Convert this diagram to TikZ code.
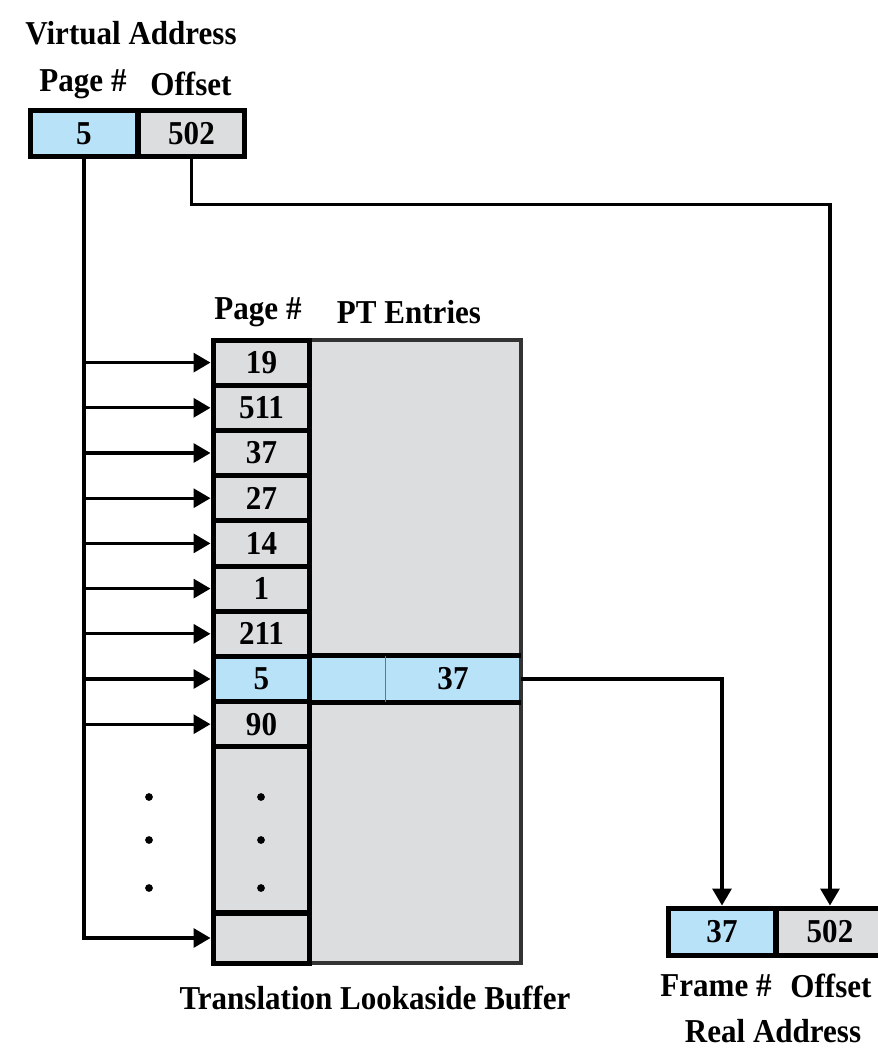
\documentclass[tikz,border=0pt]{standalone}
\usepackage{fontspec}
\setmainfont{Liberation Serif}[FakeStretch=0.93]
\usetikzlibrary{arrows.meta}
\definecolor{tlbblue}{HTML}{B8E2F8}
\definecolor{tlbgray}{HTML}{DCDDDF}

\begin{document}
\begin{tikzpicture}[
    x=0.02cm, y=-0.02cm,
    >={Triangle[length=0.34cm, width=0.38cm]},
    every node/.style={font=\fontsize{19}{22}\selectfont\bfseries},
    cell/.style={
        draw,
        line width=1mm,
        inner sep=0pt,
        minimum width=2.16cm,
        minimum height=0.94cm
    },
    row/.style={cell, fill=tlbgray, minimum width=1.94cm, minimum height=0.904cm},
    conn/.style={line width=0.65mm},
    arr/.style={conn, ->}
]
    \useasboundingbox (0,0) rectangle (878,1055);

    % Virtual address
    \node (vatitle) at (131, 33) {Virtual Address};
    \node (vapagelbl) at (83, 84) {Page \#};
    \node (vaofflbl) at (191, 84) {Offset};
    \node[cell, fill=tlbblue] (vapage) at (84, 133.5) {5};
    \node[cell, fill=tlbgray, minimum width=2.14cm] (vaoff) at (191.5, 133.5) {502};

    % TLB
    \node (pagehdr) at (258, 312) {Page \#};
    \node (pthdr) at (409, 312) {PT Entries};
    \node[fill=tlbgray, inner sep=0pt, minimum width=4.22cm, minimum height=12.46cm] (pt) at (415.5, 651.5) {};
    \node[fill=tlbblue, inner sep=0pt, minimum width=1.5cm, minimum height=0.92cm] (hvalid) at (347.5, 679) {};
    \node[fill=tlbblue, inner sep=0pt, minimum width=2.72cm, minimum height=0.92cm] (hframe) at (453, 679) {37};
    \draw[line width=0.75mm, black!80] (pt.north west) rectangle (pt.south east);
    \draw[line width=1mm] (hvalid.north west) -- (hframe.north east);
    \draw[line width=1mm] (hvalid.south west) -- (hframe.south east);
    \draw[line width=0.3mm, black!55] (hvalid.north east) -- (hvalid.south east);

    \node[row] (r19) at (261.5, 362.6) {19};
    \node[row] (r511) at (261.5, 407.8) {511};
    \node[row] (r37) at (261.5, 453.0) {37};
    \node[row] (r27) at (261.5, 498.2) {27};
    \node[row] (r14) at (261.5, 543.4) {14};
    \node[row] (r1) at (261.5, 588.6) {1};
    \node[row] (r211) at (261.5, 633.8) {211};
    \node[row, fill=tlbblue] (r5) at (261.5, 679.0) {5};
    \node[row] (r90) at (261.5, 724.2) {90};
    \node[row, minimum height=3.324cm] (rdots) at (261.5, 829.9) {};
    \node[row, minimum height=1.0cm] (rlast) at (261.5, 938) {};
    \node (tlbtitle) at (375, 998) {Translation Lookaside Buffer};

    \foreach \y in {797, 840, 888} {
        \fill (149, \y) circle (2.2pt);
        \fill (261, \y) circle (2.2pt);
    }

    % Page number lookup
    \draw[arr] (vapage.south) |- (r19.west);
    \draw[arr] (vapage.south) |- (r511.west);
    \draw[arr] (vapage.south) |- (r37.west);
    \draw[arr] (vapage.south) |- (r27.west);
    \draw[arr] (vapage.south) |- (r14.west);
    \draw[arr] (vapage.south) |- (r1.west);
    \draw[arr] (vapage.south) |- (r211.west);
    \draw[arr] (vapage.south) |- (r5.west);
    \draw[arr] (vapage.south) |- (r90.west);
    \draw[arr] (vapage.south) |- (rlast.west);

    % Real address
    \node[cell, fill=tlbblue] (raframe) at (722, 931.5) {37};
    \node[cell, fill=tlbgray] (raoff) at (830, 931.5) {502};
    \node (raframelbl) at (716, 986) {Frame \#};
    \node (raofflbl) at (831, 986) {Offset};
    \node (ratitle) at (773, 1031) {Real Address};

    \draw[arr] (vaoff.south) -- ++(0, 45) -| (raoff.north);
    \draw[arr] (hframe.east) -| (raframe.north);

\end{tikzpicture}
\end{document}
